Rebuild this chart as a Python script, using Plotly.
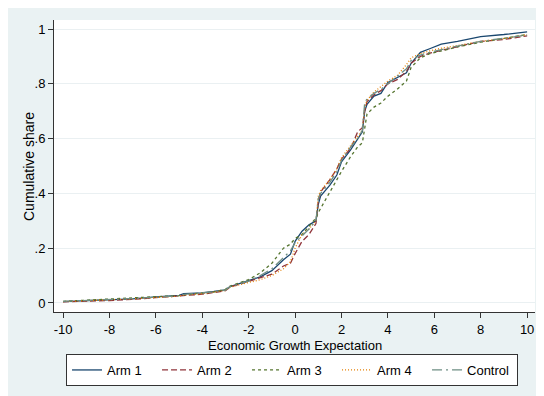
import plotly.graph_objects as go

x_vals = [-10, -9, -8, -7, -6, -5, -4.8, -4, -3.5, -3, -2.8, -2, -1.5, -1, -0.5, -0.2,
          0, 0.3, 0.6, 0.9, 1, 1.1, 1.5, 1.8, 2, 2.4, 2.7, 2.9, 3, 3.1, 3.4, 3.7,
          4, 4.4, 4.8, 5, 5.4, 5.8, 6.3, 7, 8, 9, 10]

arm1 = [0.005, 0.008, 0.010, 0.015, 0.022, 0.028, 0.034, 0.037, 0.042, 0.048, 0.060, 0.082,
        0.095, 0.118, 0.158, 0.178, 0.225, 0.262, 0.285, 0.300, 0.360, 0.390, 0.430, 0.467,
        0.515, 0.560, 0.598, 0.625, 0.700, 0.725, 0.755, 0.765, 0.805, 0.822, 0.840, 0.875,
        0.915, 0.928, 0.945, 0.955, 0.972, 0.980, 0.990]
arm2 = [0.004, 0.006, 0.009, 0.013, 0.019, 0.024, 0.027, 0.032, 0.038, 0.045, 0.058, 0.078,
        0.090, 0.105, 0.135, 0.145, 0.180, 0.225, 0.250, 0.290, 0.370, 0.405, 0.450, 0.490,
        0.525, 0.565, 0.625, 0.640, 0.700, 0.735, 0.760, 0.775, 0.800, 0.815, 0.845, 0.875,
        0.900, 0.912, 0.922, 0.935, 0.955, 0.962, 0.975]
arm3 = [0.006, 0.010, 0.013, 0.017, 0.022, 0.027, 0.030, 0.036, 0.040, 0.050, 0.062, 0.085,
        0.110, 0.145, 0.200, 0.215, 0.235, 0.250, 0.280, 0.310, 0.330, 0.345, 0.410, 0.450,
        0.480, 0.535, 0.570, 0.585, 0.640, 0.690, 0.715, 0.730, 0.755, 0.780, 0.810, 0.860,
        0.895, 0.910, 0.920, 0.935, 0.952, 0.965, 0.980]
arm4 = [0.005, 0.008, 0.011, 0.015, 0.020, 0.025, 0.029, 0.034, 0.040, 0.046, 0.058, 0.075,
        0.085, 0.100, 0.125, 0.150, 0.200, 0.250, 0.270, 0.300, 0.390, 0.410, 0.450, 0.490,
        0.530, 0.575, 0.610, 0.630, 0.715, 0.740, 0.770, 0.790, 0.810, 0.830, 0.870, 0.895,
        0.910, 0.920, 0.930, 0.940, 0.955, 0.965, 0.980]
control = [0.006, 0.009, 0.012, 0.016, 0.021, 0.026, 0.031, 0.036, 0.041, 0.047, 0.060, 0.080,
           0.100, 0.125, 0.165, 0.190, 0.220, 0.245, 0.270, 0.300, 0.380, 0.400, 0.440, 0.480,
           0.520, 0.570, 0.600, 0.630, 0.730, 0.745, 0.765, 0.780, 0.800, 0.825, 0.855, 0.885,
           0.905, 0.915, 0.925, 0.938, 0.955, 0.966, 0.978]

series_names = ["Arm 1", "Arm 2", "Arm 3", "Arm 4", "Control"]
series_vals = [arm1, arm2, arm3, arm4, control]
colors = ["#1a476f", "#90353b", "#55752f", "#e37e00", "#6e8e84"]
dashes = ["solid", "6px,3px", "3px,3px", "1px,2px", "10px,4px,2px,4px"]

x_ticks = [-10, -8, -6, -4, -2, 0, 2, 4, 6, 8, 10]
x_tick_labels = ["-10", "-8", "-6", "-4", "-2", "0", "2", "4", "6", "8", "10"]
y_ticks = [0, 0.2, 0.4, 0.6, 0.8, 1]
y_tick_labels = ["0", ".2", ".4", ".6", ".8", "1"]

FONT = "Liberation Sans, Arial, Helvetica, sans-serif"

fig = go.Figure()
for name, vals, c, d in zip(series_names, series_vals, colors, dashes):
    fig.add_trace(go.Scatter(x=x_vals, y=vals, mode="lines", name=name,
                             line=dict(color=c, width=1.3, dash=d)))

fig.update_layout(
    width=536, height=388,
    margin=dict(l=46, r=9, t=12, b=84, autoexpand=False),
    paper_bgcolor="#eaf2f3",
    plot_bgcolor="white",
    font=dict(family=FONT, size=13, color="black"),
    showlegend=True,
    legend=dict(orientation="h", x=0.025, xanchor="left", y=-0.1438, yanchor="top",
                bgcolor="white", bordercolor="#333333", borderwidth=1,
                font=dict(family=FONT, size=13), entrywidth=45, tracegroupgap=0),
    annotations=[
        dict(text="Cumulative share", xref="paper", yref="paper", x=-0.052, y=0.5,
             textangle=-90, showarrow=False, xanchor="center", yanchor="middle",
             font=dict(size=14)),
        dict(text="Economic Growth Expectation", xref="paper", yref="paper", x=0.5,
             y=-0.1164, showarrow=False, xanchor="center", yanchor="middle",
             font=dict(size=13)),
    ],
)
fig.update_xaxes(range=[-10.39, 10.34], tickvals=x_ticks, ticktext=x_tick_labels,
                 ticks="outside", ticklen=5,
                 tickcolor="#333333", showline=True, linecolor="#333333", linewidth=1,
                 showgrid=False, zeroline=False, mirror=False, automargin=False,
                 tickfont=dict(size=13))
fig.update_yaxes(range=[-0.033, 1.033], tickvals=y_ticks, ticktext=y_tick_labels,
                 ticks="outside", ticklen=5, tickcolor="#333333", showline=True,
                 linecolor="#333333", linewidth=1, showgrid=True, gridcolor="#eaf0f2",
                 gridwidth=1, zeroline=False, automargin=False,
                 tickfont=dict(size=13))

fig.write_html("out.html")
